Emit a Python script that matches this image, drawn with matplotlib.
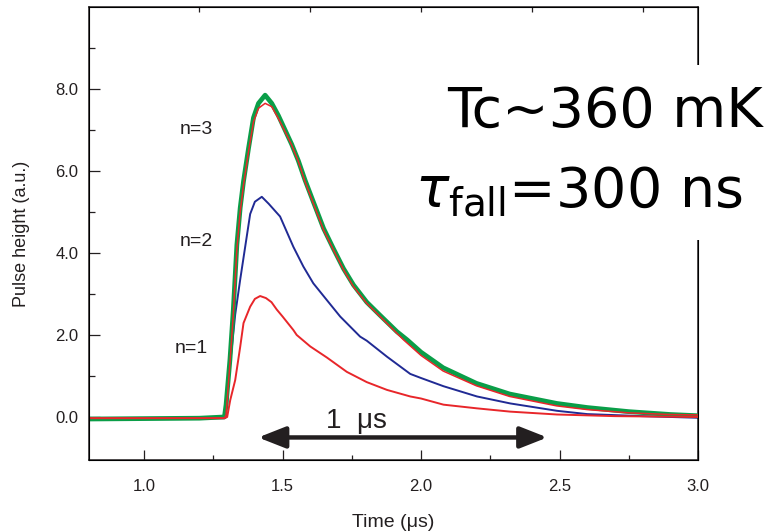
import matplotlib
matplotlib.use("Agg")
import matplotlib.pyplot as plt
from matplotlib.patches import Rectangle


# ============================================================
# DATA
# ============================================================

# n=3 measured trace (green)
N3_TIME = [0.80, 1.20, 1.29, 1.296, 1.31, 1.322, 1.335, 1.347, 1.359, 1.377,
           1.395, 1.413, 1.437, 1.461, 1.485, 1.509, 1.533, 1.557, 1.581, 1.611,
           1.648, 1.684, 1.72, 1.756, 1.804, 1.852, 1.913, 1.95, 2.00, 2.08,
           2.20, 2.32, 2.49, 2.60, 2.75, 2.90, 3.00]
N3_DATA = [-0.05, -0.03, 0.0, 0.3, 1.4, 2.6, 4.2, 5.1, 5.75, 6.55,
           7.3, 7.65, 7.85, 7.65, 7.35, 7.0, 6.65, 6.25, 5.78, 5.25,
           4.6, 4.1, 3.62, 3.22, 2.8, 2.48, 2.08, 1.88, 1.58, 1.2,
           0.82, 0.56, 0.33, 0.23, 0.13, 0.06, 0.03]

# n=3 fit (red, smooth)
FIT_TIME = [0.80, 1.29, 1.296, 1.31, 1.322, 1.335, 1.347, 1.359, 1.377, 1.395,
            1.413, 1.437, 1.461, 1.485, 1.509, 1.533, 1.557, 1.581, 1.611, 1.648,
            1.684, 1.72, 1.756, 1.804, 1.852, 1.913, 1.937, 2.00, 2.08, 2.20,
            2.32, 2.49, 2.60, 2.75, 2.90, 3.00]
FIT_DATA = [-0.03, -0.03, 0.05, 1.3, 2.5, 4.1, 5.0, 5.66, 6.47, 7.2,
            7.53, 7.65, 7.57, 7.28, 6.96, 6.63, 6.23, 5.74, 5.21, 4.56,
            4.07, 3.59, 3.18, 2.77, 2.45, 2.04, 1.88, 1.5, 1.12, 0.76,
            0.5, 0.27, 0.18, 0.1, 0.06, 0.05]

# n=2 trace (blue)
N2_TIME = [0.80, 1.29, 1.30, 1.304, 1.317, 1.329, 1.347, 1.365, 1.383, 1.40,
           1.425, 1.45, 1.479, 1.491, 1.539, 1.575, 1.611, 1.66, 1.708, 1.78,
           1.804, 1.877, 1.961, 2.00, 2.081, 2.202, 2.322, 2.491, 2.60, 2.80,
           3.00]
N2_DATA = [-0.03, -0.03, 0.3, 0.9, 1.7, 2.5, 3.35, 4.15, 4.95, 5.25,
           5.37, 5.2, 4.98, 4.89, 4.15, 3.67, 3.26, 2.85, 2.45, 1.96,
           1.86, 1.47, 1.05, 0.95, 0.75, 0.5, 0.33, 0.15, 0.07, 0.02,
           -0.02]

# n=1 trace (red)
N1_TIME = [0.80, 1.29, 1.30, 1.311, 1.329, 1.347, 1.359, 1.383, 1.40, 1.419,
           1.44, 1.46, 1.479, 1.50, 1.539, 1.551, 1.60, 1.66, 1.732, 1.804,
           1.877, 1.961, 2.00, 2.081, 2.202, 2.322, 2.491, 2.70, 3.00]
N1_DATA = [-0.03, -0.03, 0.0, 0.41, 0.9, 1.71, 2.29, 2.69, 2.88, 2.95,
           2.9, 2.8, 2.62, 2.45, 2.12, 2.0, 1.72, 1.45, 1.1, 0.85,
           0.66, 0.5, 0.45, 0.3, 0.21, 0.13, 0.06, 0.02, 0.0]

X_TICKS = [1.0, 1.5, 2.0, 2.5, 3.0]
X_TICK_LABELS = ["1.0", "1.5", "2.0", "2.5", "3.0"]
Y_TICKS = [0.0, 2.0, 4.0, 6.0, 8.0]
Y_TICK_LABELS = ["0.0", "2.0", "4.0", "6.0", "8.0"]
TOP_TICKS = [1.2, 1.6, 2.0, 2.4, 2.8]

TRACE_LABELS = ["n=1", "n=2", "n=3"]
TRACE_LABEL_POS = [(1.17, 1.68), (1.19, 4.29), (1.19, 7.0)]

ARROW_START = 1.412
ARROW_END = 2.456
ARROW_Y = -0.5


# ============================================================
# STYLE
# ============================================================

INK = "#231f20"
GREEN = "#0a9e48"
BLUE = "#202a94"
RED = "#e8262a"

plt.rcParams["font.family"] = ["Liberation Sans", "DejaVu Sans"]
plt.rcParams["mathtext.fontset"] = "dejavusans"


def main():
    fig = plt.figure(figsize=(7.74, 5.31), dpi=100)
    ax = fig.add_axes([0.1146, 0.1337, 0.7872, 0.8531])

    ax.plot(N2_TIME, N2_DATA, color=BLUE, lw=1.4, zorder=2)
    ax.plot(N3_TIME, N3_DATA, color=GREEN, lw=3.4, zorder=3)
    ax.plot(N1_TIME, N1_DATA, color=RED, lw=1.4, zorder=4)
    ax.plot(FIT_TIME, FIT_DATA, color=RED, lw=1.1, zorder=5)

    ax.set_xlim(0.8, 3.0)
    ax.set_ylim(-1.05, 10.0)

    ax.set_xticks(X_TICKS)
    ax.set_xticklabels(X_TICK_LABELS)
    ax.set_xticks([1.25, 1.75, 2.25, 2.75], minor=True)
    ax.set_yticks(Y_TICKS)
    ax.set_yticklabels(Y_TICK_LABELS)
    ax.set_yticks([1, 3, 5, 7, 9], minor=True)

    ax.tick_params(axis="x", which="major", direction="in", length=7, width=0.9,
                   colors=INK, labelsize=12, pad=14, top=False)
    ax.tick_params(axis="x", which="minor", direction="in", length=3.6, width=0.9,
                   colors=INK, top=False)
    ax.tick_params(axis="y", which="major", direction="in", length=8, width=0.9,
                   colors=INK, labelsize=12, pad=7.5, right=False)
    ax.tick_params(axis="y", which="minor", direction="in", length=4.3, width=0.9,
                   colors=INK, right=False)

    for side in ax.spines.values():
        side.set_color(INK)
        side.set_linewidth(1.1)

    top = ax.twiny()
    top.set_xlim(0.8, 3.0)
    top.set_xticks(TOP_TICKS)
    top.set_xticklabels([])
    top.tick_params(axis="x", direction="in", length=3.5, width=0.9, colors=INK)

    ax.set_xlabel("Time (\u03bcs)", fontsize=14, color=INK, labelpad=14)
    ax.set_ylabel("Pulse height (a.u.)", fontsize=13, color=INK, labelpad=18)

    for text, (x, y) in zip(TRACE_LABELS, TRACE_LABEL_POS):
        ax.text(x, y, text, fontsize=14, color=INK, ha="center", va="center")

    ax.annotate(
        "",
        xy=(ARROW_END, ARROW_Y),
        xytext=(ARROW_START, ARROW_Y),
        arrowprops=dict(arrowstyle="<|-|>,head_length=1.65,head_width=0.65",
                        lw=3.2, color=INK, shrinkA=0, shrinkB=0),
        zorder=6,
    )
    ax.text(1.767, -0.27, "1  \u03bcs", fontsize=20, color=INK,
            ha="center", va="baseline")

    # white patch breaking the right spine behind the big annotation
    fig.patches.append(Rectangle((0.88, 1 - 240 / 531), 0.05, 175 / 531,
                                 transform=fig.transFigure, facecolor="white",
                                 edgecolor="none", zorder=5))

    fig.text(447 / 774, 1 - 112 / 531, "Tc~360 mK", fontsize=40,
             family="DejaVu Sans", color="black", ha="left", va="center",
             zorder=6)
    fig.text(415 / 774, 1 - 192 / 531, r"$\tau_{\mathrm{fall}}$=300 ns",
             fontsize=40, family="DejaVu Sans", color="black",
             ha="left", va="center", zorder=6)

    fig.savefig("out.png", dpi=100)


if __name__ == "__main__":
    main()
